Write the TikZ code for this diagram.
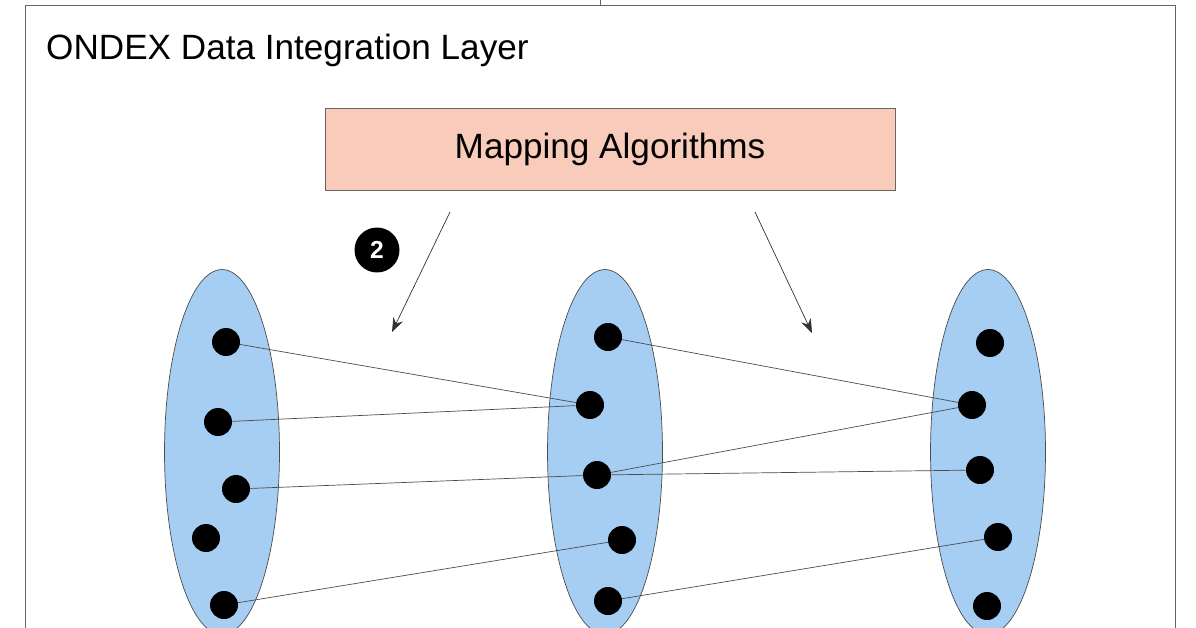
\documentclass[tikz,border=0pt]{standalone}
\usepackage{fontspec}
\setmainfont{Liberation Sans}
\usetikzlibrary{shapes.geometric,arrows.meta,positioning}
\definecolor{setblue}{HTML}{A6CDF2}
\definecolor{boxpink}{HTML}{F9CBBB}
\tikzset{
	set/.style={draw=black!70, ellipse, fill=setblue, minimum width=2.3cm, minimum height=7.3cm},
	elem/.style={circle, fill=black, inner sep=0pt, minimum size=0.56cm},
	link/.style={draw=black!70, thin},
}
\begin{document}
\begin{tikzpicture}[x=0.02cm,y=-0.02cm]
	\useasboundingbox (0,0) rectangle (1196,628);
	\draw[black!60] (25,5) -- (25,640) (25,5) -- (1175,5) -- (1175,640);
	\draw[black!60] (600,5) -- (600,0);
	\node[anchor=west, font=\fontsize{20}{24}\selectfont] (title) at (40,50) {ONDEX Data Integration Layer};
	\node[draw=black!60, fill=boxpink, minimum width=11.4cm, minimum height=1.64cm, font=\fontsize{20}{24}\selectfont] (map) at (610,149) {Mapping Algorithms};
	\node[circle, fill=black, text=white, inner sep=0pt, minimum size=0.9cm, font=\bfseries\fontsize{14}{16}\selectfont] (step) at (377,250) {2};
	\coordinate (a1) at (450,212); \coordinate (a1e) at (392,332);
	\coordinate (a2) at (755,212); \coordinate (a2e) at (812,333);
	\draw[-{Stealth[length=8pt]}, black!80] (a1) -- (a1e);
	\draw[-{Stealth[length=8pt]}, black!80] (a2) -- (a2e);
	% three sets
	\node[set] (setL) at (222,452) {};
	\node[set] (setM) at (605,452) {};
	\node[set] (setR) at (988,452) {};
	% elements
	\foreach \n/\x/\y in {l1/226/342, l2/218/422, l3/236/489, l4/206/538, l5/224/605,
		m1/608/337, m2/590/405, m3/597/475, m4/622/540, m5/608/601,
		r1/990/343, r2/972/405, r3/980/470, r4/998/537, r5/987/606}
		\node[elem] (\n) at (\x,\y) {};
	% mappings
	\foreach \a/\b in {l1/m2, l2/m2, l3/m3, l5/m4, m1/r2, m3/r2, m3/r3, m5/r4}
		\draw[link] (\a) -- (\b);
\end{tikzpicture}
\end{document}
